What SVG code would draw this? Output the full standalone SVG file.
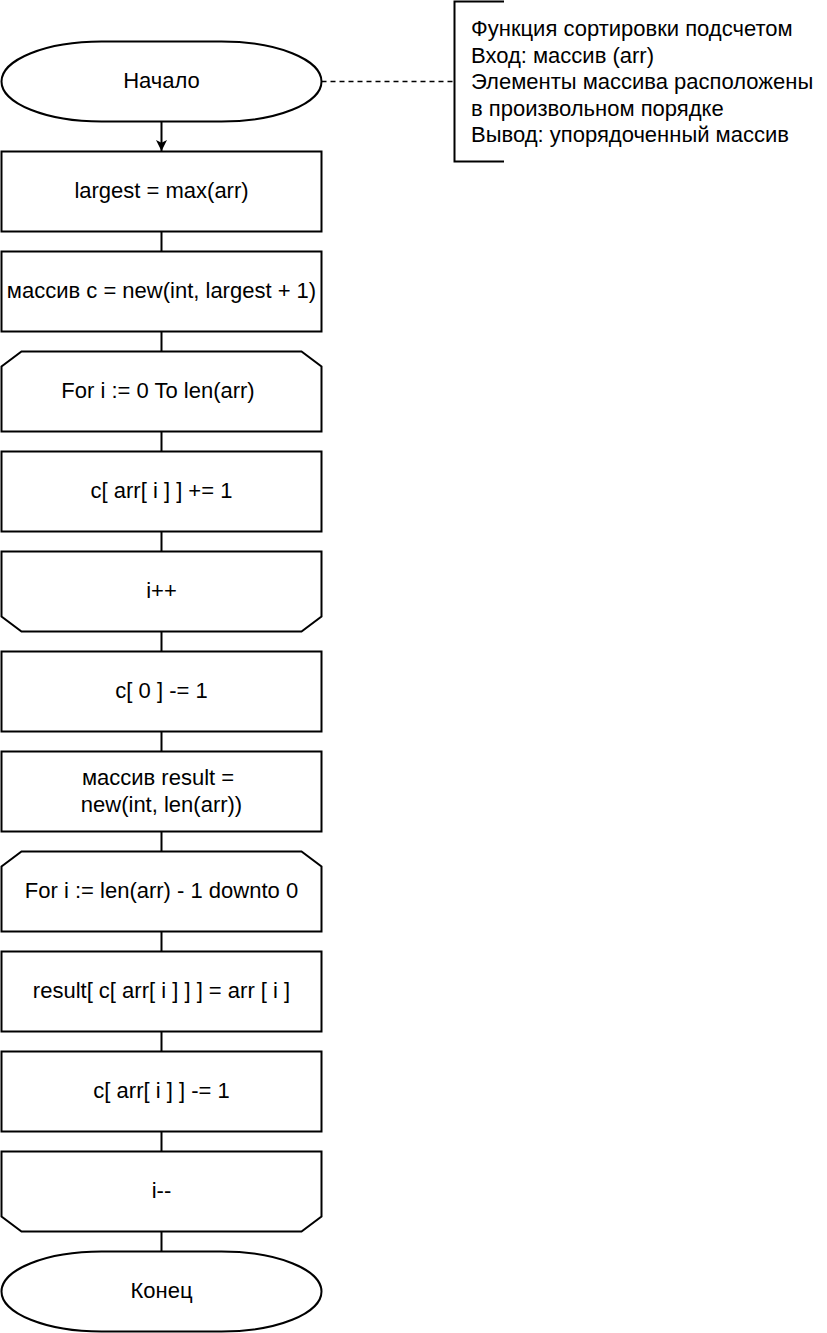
<svg xmlns="http://www.w3.org/2000/svg" width="827" height="1333" viewBox="0 0 827 1333">
  <defs>
    <style>
      .shape { fill: #ffffff; stroke: #000000; stroke-width: 2; }
      .line { fill: none; stroke: #000000; stroke-width: 2; }
      .dash { fill: none; stroke: #000000; stroke-width: 1.5; stroke-dasharray: 5 4; }
      .label { font-family: "Liberation Sans", Arial, sans-serif; font-size: 22px; fill: #000000; text-anchor: middle; dominant-baseline: central; }
      .note { font-family: "Liberation Sans", Arial, sans-serif; font-size: 22px; fill: #000000; }
    </style>
    <marker id="arrow" viewBox="0 0 10 10" refX="10" refY="5" markerWidth="11" markerHeight="11" orient="auto" markerUnits="userSpaceOnUse">
      <path d="M0,0 L10,5 L0,10 L2.5,5 Z" fill="#000000"/>
    </marker>
  </defs>
  <rect width="827" height="1333" fill="#ffffff"/>

  <!-- connectors -->
  <g id="connectors">
    <line class="line" x1="161.5" y1="121.5" x2="161.5" y2="151" marker-end="url(#arrow)"/>
    <line class="line" x1="161.5" y1="231.5" x2="161.5" y2="251.5"/>
    <line class="line" x1="161.5" y1="331.5" x2="161.5" y2="351.5"/>
    <line class="line" x1="161.5" y1="431.5" x2="161.5" y2="451.5"/>
    <line class="line" x1="161.5" y1="531.5" x2="161.5" y2="551.5"/>
    <line class="line" x1="161.5" y1="631.5" x2="161.5" y2="651.5"/>
    <line class="line" x1="161.5" y1="731.5" x2="161.5" y2="751.5"/>
    <line class="line" x1="161.5" y1="831.5" x2="161.5" y2="851.5"/>
    <line class="line" x1="161.5" y1="931.5" x2="161.5" y2="951.5"/>
    <line class="line" x1="161.5" y1="1031.5" x2="161.5" y2="1051.5"/>
    <line class="line" x1="161.5" y1="1131.5" x2="161.5" y2="1151.5"/>
    <line class="line" x1="161.5" y1="1231.5" x2="161.5" y2="1251.5"/>
    <line class="dash" x1="321.5" y1="81.5" x2="454.5" y2="81.5"/>
  </g>

  <!-- start -->
  <g id="start">
    <rect class="shape" x="1.5" y="41.5" width="320" height="80" rx="100" ry="40"/>
    <text class="label" x="161.5" y="80">Начало</text>
  </g>

  <!-- note -->
  <g id="note">
    <path class="line" d="M504,1.5 H454.5 V161.5 H504"/>
    <text class="note" x="471" y="36">Функция сортировки подсчетом</text>
    <text class="note" x="471" y="62.5">Вход: массив (arr)</text>
    <text class="note" x="471" y="89">Элементы массива расположены</text>
    <text class="note" x="471" y="115.5">в произвольном порядке</text>
    <text class="note" x="471" y="142">Вывод: упорядоченный массив</text>
  </g>

  <g id="largest">
    <rect class="shape" x="1.5" y="151.5" width="320" height="80"/>
    <text class="label" x="161.5" y="190">largest = max(arr)</text>
  </g>

  <g id="alloc-c">
    <rect class="shape" x="1.5" y="251.5" width="320" height="80"/>
    <text class="label" x="161.5" y="290">массив c = new(int, largest + 1)</text>
  </g>

  <g id="loop1-start">
    <path class="shape" d="M21.5,351.5 H301.5 L321.5,366.5 V431.5 H1.5 V366.5 Z"/>
    <text class="label" x="158" y="390">For i := 0 To len(arr)</text>
  </g>

  <g id="count">
    <rect class="shape" x="1.5" y="451.5" width="320" height="80"/>
    <text class="label" x="161.5" y="490">c[ arr[ i ] ] += 1</text>
  </g>

  <g id="loop1-end">
    <path class="shape" d="M1.5,551.5 H321.5 V616.5 L301.5,631.5 H21.5 L1.5,616.5 Z"/>
    <text class="label" x="161.5" y="590">i++</text>
  </g>

  <g id="dec-c0">
    <rect class="shape" x="1.5" y="651.5" width="320" height="80"/>
    <text class="label" x="161.5" y="690">c[ 0 ] -= 1</text>
  </g>

  <g id="alloc-result">
    <rect class="shape" x="1.5" y="751.5" width="320" height="80"/>
    <text class="label" x="158" y="777">массив result =</text>
    <text class="label" x="161.5" y="804">new(int, len(arr))</text>
  </g>

  <g id="loop2-start">
    <path class="shape" d="M21.5,851.5 H301.5 L321.5,866.5 V931.5 H1.5 V866.5 Z"/>
    <text class="label" x="161.5" y="890">For i := len(arr) - 1 downto 0</text>
  </g>

  <g id="place">
    <rect class="shape" x="1.5" y="951.5" width="320" height="80"/>
    <text class="label" x="161.5" y="990">result[ c[ arr[ i ] ] ] = arr [ i ]</text>
  </g>

  <g id="dec-count">
    <rect class="shape" x="1.5" y="1051.5" width="320" height="80"/>
    <text class="label" x="161.5" y="1090">c[ arr[ i ] ] -= 1</text>
  </g>

  <g id="loop2-end">
    <path class="shape" d="M1.5,1151.5 H321.5 V1216.5 L301.5,1231.5 H21.5 L1.5,1216.5 Z"/>
    <text class="label" x="161.5" y="1190">i--</text>
  </g>

  <g id="end">
    <rect class="shape" x="1.5" y="1251.5" width="320" height="80" rx="100" ry="40"/>
    <text class="label" x="161.5" y="1290">Конец</text>
  </g>
</svg>
